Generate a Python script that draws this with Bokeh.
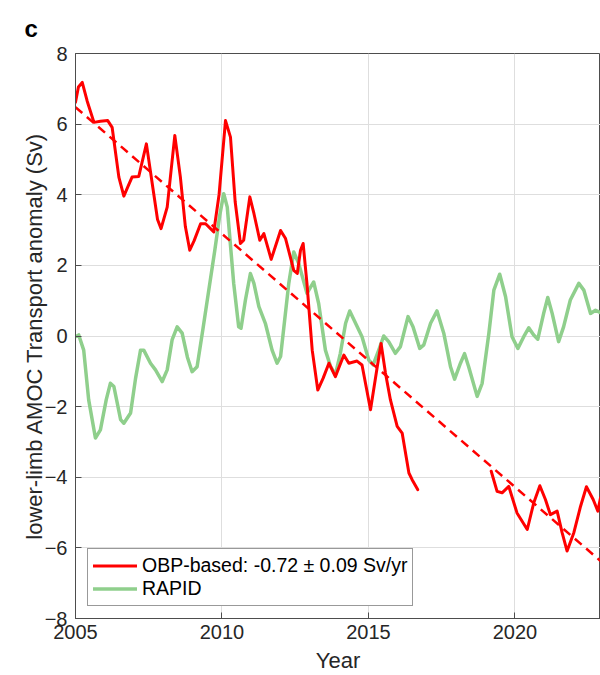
from bokeh.plotting import figure
from bokeh.models import FixedTicker, Legend, LegendItem, Range1d, Title
from bokeh.embed import file_html
from bokeh.resources import INLINE

nan = float("nan")

# OBP-based lower-limb AMOC transport anomaly (Sv); gap between 2016.7 and 2019.2
obp_year = [2005.00, 2005.10, 2005.23, 2005.40, 2005.63, 2005.85, 2006.10, 2006.25,
            2006.48, 2006.65, 2006.80, 2006.93, 2007.16, 2007.42, 2007.62, 2007.80,
            2007.92, 2008.13, 2008.39, 2008.58, 2008.75, 2008.90, 2009.05, 2009.27,
            2009.44, 2009.72, 2009.90, 2010.12, 2010.29, 2010.45, 2010.63, 2010.74,
            2010.95, 2011.09, 2011.29, 2011.43, 2011.68, 2012.00, 2012.17, 2012.45,
            2012.57, 2012.68, 2012.77, 2012.90, 2013.08, 2013.27, 2013.45, 2013.65,
            2013.87, 2014.16, 2014.33, 2014.61, 2014.78, 2015.07, 2015.30, 2015.43,
            2015.58, 2015.75, 2015.98, 2016.15, 2016.38, 2016.49, 2016.68,
            nan,
            2019.19, 2019.39, 2019.56, 2019.79, 2020.07, 2020.42, 2020.64, 2020.85,
            2021.04, 2021.21, 2021.44, 2021.61, 2021.78, 2022.01, 2022.24, 2022.44,
            2022.67, 2022.83, 2022.92]
obp_val = [6.62, 7.05, 7.18, 6.65, 6.05, 6.08, 6.10, 5.91,
           4.50, 3.96, 4.25, 4.50, 4.52, 5.44, 4.31, 3.30,
           3.04, 3.65, 5.68, 4.50, 3.10, 2.43, 2.70, 3.18,
           3.18, 2.95, 4.00, 6.10, 5.63, 3.80, 2.62, 2.71,
           3.94, 3.47, 2.71, 2.90, 2.17, 2.99, 2.76, 1.86,
           1.77, 2.43, 2.62, 1.49, -0.40, -1.53, -1.20, -0.77,
           -1.15, -0.54, -0.77, -0.71, -0.82, -2.09, -0.87, -0.21,
           -1.05, -1.81, -2.56, -2.75, -3.88, -4.07, -4.35,
           nan,
           -3.83, -4.40, -4.44, -4.26, -5.01, -5.48, -4.73, -4.24,
           -4.63, -5.06, -4.96, -5.57, -6.09, -5.57, -4.82, -4.27,
           -4.63, -4.96, -4.58]

# RAPID lower-limb transport anomaly (Sv)
rapid_year = [2005.00, 2005.11, 2005.28, 2005.45, 2005.68, 2005.85, 2006.05, 2006.19,
              2006.31, 2006.54, 2006.65, 2006.88, 2007.05, 2007.22, 2007.33, 2007.56,
              2007.73, 2007.96, 2008.13, 2008.30, 2008.47, 2008.64, 2008.82, 2008.98,
              2009.15, 2009.35, 2009.55, 2009.75, 2009.92, 2010.06, 2010.18, 2010.40,
              2010.57, 2010.65, 2010.80, 2010.97, 2011.09, 2011.26, 2011.48, 2011.71,
              2011.88, 2012.00, 2012.28, 2012.45, 2012.62, 2012.90, 2013.13, 2013.30,
              2013.53, 2013.70, 2013.87, 2014.04, 2014.22, 2014.36, 2014.56, 2014.78,
              2015.01, 2015.16, 2015.35, 2015.52, 2015.69, 2015.92, 2016.09, 2016.35,
              2016.52, 2016.75, 2016.89, 2017.12, 2017.34, 2017.57, 2017.80, 2017.94,
              2018.14, 2018.28, 2018.42, 2018.71, 2018.88, 2019.11, 2019.28, 2019.48,
              2019.68, 2019.90, 2020.10, 2020.30, 2020.47, 2020.64, 2020.78, 2020.98,
              2021.12, 2021.27, 2021.49, 2021.66, 2021.89, 2022.18, 2022.35, 2022.58,
              2022.75, 2022.92]
rapid_val = [-0.02, 0.03, -0.40, -1.81, -2.89, -2.66, -1.80, -1.34,
             -1.43, -2.37, -2.47, -2.18, -1.20, -0.40, -0.40, -0.77,
             -0.96, -1.29, -0.96, -0.10, 0.26, 0.08, -0.60, -1.01,
             -0.87, 0.20, 1.30, 2.40, 3.40, 4.03, 3.65, 1.49,
             0.26, 0.22, 1.02, 1.77, 1.49, 0.83, 0.36, -0.40,
             -0.77, -0.58, 1.49, 2.38, 2.05, 1.21, 1.53, 0.92,
             -0.40, -0.85, -1.10, -0.49, 0.36, 0.71, 0.36, -0.02,
             -0.68, -0.82, -0.40, 0.00, -0.16, -0.49, -0.30, 0.55,
             0.26, -0.35, -0.25, 0.36, 0.71, 0.08, -0.87, -1.22,
             -0.77, -0.50, -0.87, -1.71, -1.34, 0.08, 1.30, 1.75,
             1.11, -0.02, -0.35, -0.02, 0.23, 0.03, -0.09, 0.64,
             1.09, 0.64, -0.16, 0.26, 1.02, 1.49, 1.30, 0.64,
             0.73, 0.66]

# Linear trend of OBP-based series (end points)
trend_year = [2005.0, 2022.92]
trend_val = [6.48, -6.37]

x_ticks = [2005, 2010, 2015, 2020]
y_ticks = [-8, -6, -4, -2, 0, 2, 4, 6, 8]

FONT = "Liberation Sans"
INK = "#262626"

p = figure(width=600, height=675, output_backend="svg", toolbar_location=None,
           x_range=Range1d(2005, 2022.92), y_range=Range1d(-8, 8),
           min_border_left=75, min_border_right=0, min_border_top=53,
           min_border_bottom=56, background_fill_color="white",
           border_fill_color="white")

p.outline_line_color = "#4d4d4d"
p.outline_line_width = 1

p.xaxis.ticker = FixedTicker(ticks=x_ticks)
p.yaxis.ticker = FixedTicker(ticks=y_ticks)
p.xgrid.ticker = FixedTicker(ticks=x_ticks)
p.ygrid.ticker = FixedTicker(ticks=y_ticks)
p.grid.grid_line_color = "#dedede"
p.grid.grid_line_width = 1

for ax in [p.xaxis[0], p.yaxis[0]]:
    ax.major_tick_in = 6
    ax.major_tick_out = 0
    ax.minor_tick_in = 0
    ax.minor_tick_out = 0
    ax.axis_line_color = "#4d4d4d"
    ax.major_tick_line_color = "#4d4d4d"
    ax.major_label_text_color = INK
    ax.major_label_text_font = FONT
    ax.major_label_text_font_size = "20px"
    ax.axis_label_text_font = FONT
    ax.axis_label_text_font_size = "22px"
    ax.axis_label_text_font_style = "normal"
    ax.axis_label_text_color = INK

p.xaxis.axis_label = "Year"
p.yaxis.axis_label = "lower-limb AMOC Transport anomaly (Sv)"
p.xaxis.major_label_standoff = 6
p.yaxis.major_label_standoff = 8
p.xaxis.axis_label_standoff = 6
p.yaxis.axis_label_standoff = -5

p.add_layout(Title(text="c", align="left", offset=-51, standoff=23, text_font=FONT,
                   text_font_size="24px", text_font_style="bold", text_color="black"),
             "above")

r_rapid = p.line(rapid_year, rapid_val, line_color="#8fcf8c", line_width=3.5,
                 line_join="round", line_cap="round")
r_obp = p.line(obp_year, obp_val, line_color="#ff0000", line_width=3,
               line_join="round", line_cap="round")
p.line(trend_year, trend_val, line_color="#ff0000", line_width=2.5, line_dash="9 6")

legend = Legend(items=[LegendItem(label="OBP-based: -0.72 \u00b1 0.09 Sv/yr", renderers=[r_obp]),
                       LegendItem(label="RAPID", renderers=[r_rapid])],
                location=(12, 12), orientation="vertical",
                label_text_font=FONT, label_text_font_size="19.5px", label_text_color="black",
                glyph_width=44, glyph_height=21, label_height=21, label_standoff=5,
                padding=5, spacing=0, margin=0,
                border_line_color="#333333", border_line_width=1,
                background_fill_color="white", background_fill_alpha=1)
p.add_layout(legend)

open("out.html", "w").write(file_html(p, INLINE))
